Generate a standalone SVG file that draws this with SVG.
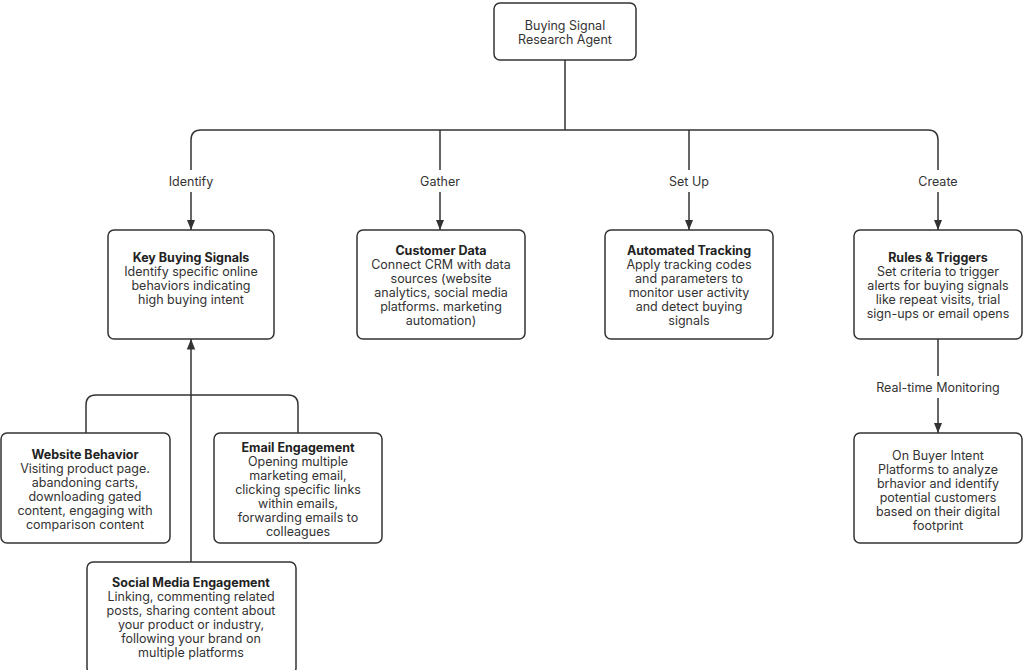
<svg xmlns="http://www.w3.org/2000/svg" width="1024" height="670" viewBox="0 0 1024 670">
<style>
.b{fill:#fff;stroke:#333;stroke-width:1.5}
text{font-family:Inter,"Liberation Sans",sans-serif;font-size:12.5px;fill:#333;text-anchor:middle}
.t{font-weight:bold;fill:#222}
.c{fill:none;stroke:#333;stroke-width:1.5}
.l{font-size:12.5px}
</style>
<defs><marker id="a" viewBox="0 0 10 10" refX="10" refY="5" markerWidth="7" markerHeight="7" orient="auto"><path d="M0,1L10,5L0,9z" fill="#333"/></marker></defs>
<rect width="1024" height="670" fill="#fff"/>
<g id="connectors">
<path class="c" d="M565,60V130"/>
<path class="c" d="M191,170V140Q191,130 201,130H928Q938,130 938,140V170"/>
<path class="c" d="M440,130V170M689,130V170"/>
<path class="c" d="M191,192V230" marker-end="url(#a)"/>
<path class="c" d="M440,192V230" marker-end="url(#a)"/>
<path class="c" d="M689,192V230" marker-end="url(#a)"/>
<path class="c" d="M938,192V230" marker-end="url(#a)"/>
<text x="191" y="186" class="l">Identify</text>
<text x="440" y="186" class="l">Gather</text>
<text x="689" y="186" class="l">Set Up</text>
<text x="938" y="186" class="l">Create</text>
<path class="c" d="M938,339V376"/>
<path class="c" d="M938,398V433" marker-end="url(#a)"/>
<text x="938" y="392" class="l">Real-time Monitoring</text>
<path class="c" d="M86,433V405Q86,395 96,395H288Q298,395 298,405V433"/>
<path class="c" d="M191,562V339" marker-end="url(#a)"/>
</g>
<g id="root"><rect class="b" x="494" y="3" width="142" height="57" rx="6"/><text x="565" y="30">Buying Signal</text><text x="565" y="44">Research Agent</text></g>
<g id="key"><rect class="b" x="108" y="230" width="166" height="109" rx="6"/><text x="191" y="262" class="t">Key Buying Signals</text><text x="191" y="276">Identify specific online</text><text x="191" y="290">behaviors indicating</text><text x="191" y="304">high buying intent</text></g>
<g id="customer"><rect class="b" x="357" y="230" width="168" height="109" rx="6"/><text x="441" y="255" class="t">Customer Data</text><text x="441" y="269">Connect CRM with data</text><text x="441" y="283">sources (website</text><text x="441" y="297">analytics, social media</text><text x="441" y="311">platforms. marketing</text><text x="441" y="325">automation)</text></g>
<g id="tracking"><rect class="b" x="605" y="230" width="168" height="109" rx="6"/><text x="689" y="255" class="t">Automated Tracking</text><text x="689" y="269">Apply tracking codes</text><text x="689" y="283">and parameters to</text><text x="689" y="297">monitor user activity</text><text x="689" y="311">and detect buying</text><text x="689" y="325">signals</text></g>
<g id="rules"><rect class="b" x="854" y="230" width="168" height="109" rx="6"/><text x="938" y="262" class="t">Rules &amp; Triggers</text><text x="938" y="276">Set criteria to trigger</text><text x="938" y="290">alerts for buying signals</text><text x="938" y="304">like repeat visits, trial</text><text x="938" y="318">sign-ups or email opens</text></g>
<g id="platforms"><rect class="b" x="854" y="433" width="168" height="110" rx="6"/><text x="938" y="460">On Buyer Intent</text><text x="938" y="474">Platforms to analyze</text><text x="938" y="488">brhavior and identify</text><text x="938" y="502">potential customers</text><text x="938" y="516">based on their digital</text><text x="938" y="530">footprint</text></g>
<g id="website"><rect class="b" x="1" y="433" width="169" height="110" rx="6"/><text x="85" y="459" class="t">Website Behavior</text><text x="85" y="473">Visiting product page.</text><text x="85" y="487">abandoning carts,</text><text x="85" y="501">downloading gated</text><text x="85" y="515">content, engaging with</text><text x="85" y="529">comparison content</text></g>
<g id="email"><rect class="b" x="214" y="433" width="168" height="110" rx="6"/><text x="298" y="452" class="t">Email Engagement</text><text x="298" y="466">Opening multiple</text><text x="298" y="480">marketing email,</text><text x="298" y="494">clicking specific links</text><text x="298" y="508">within emails,</text><text x="298" y="522">forwarding emails to</text><text x="298" y="536">colleagues</text></g>
<g id="social"><rect class="b" x="87" y="562" width="209" height="112" rx="6"/><text x="191" y="587" class="t">Social Media Engagement</text><text x="191" y="601">Linking, commenting related</text><text x="191" y="615">posts, sharing content about</text><text x="191" y="629">your product or industry,</text><text x="191" y="643">following your brand on</text><text x="191" y="657">multiple platforms</text></g>
</svg>
